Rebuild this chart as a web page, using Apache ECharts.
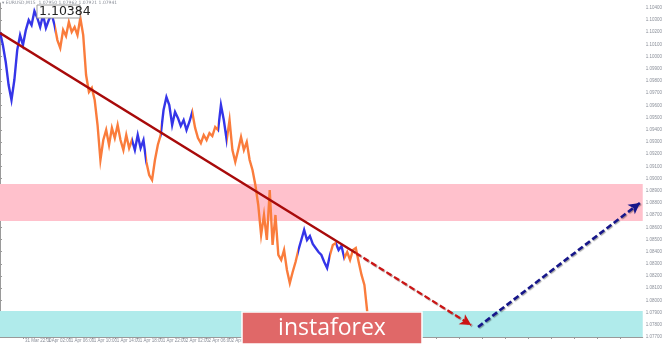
<!DOCTYPE html>
<html><head><meta charset="utf-8">
<script src="https://cdn.jsdelivr.net/npm/echarts@6/dist/echarts.min.js"></script>
<style>html,body{margin:0;padding:0;background:#fff}#c{width:665px;height:346px}</style>
</head><body><div id="c"></div>
<script>
// hours since 31 Mar 18:00, one point every half hour
const stepHours = 0.5;
const prices = [
1.10202,1.10095,1.09956,1.09767,1.09644,1.09808,1.10054,1.10177,1.10095,1.10218,
1.10300,1.10259,1.10374,1.10317,1.10243,1.10342,1.10235,1.10300,1.10350,1.10259,
1.10136,1.10071,1.10218,1.10169,1.10284,1.10202,1.10243,1.10177,1.10317,1.10177,
1.09849,1.09710,1.09743,1.09644,1.09439,1.09152,1.09316,1.09398,1.09275,1.09415,
1.09332,1.09439,1.09316,1.09234,1.09357,1.09250,1.09316,1.09234,1.09357,1.09250,
1.09316,1.09136,1.09029,1.08988,1.09152,1.09275,1.09357,1.09562,1.09669,1.09603,
1.09439,1.09546,1.09497,1.09431,1.09480,1.09398,1.09464,1.09546,1.09415,1.09332,
1.09291,1.09357,1.09316,1.09373,1.09349,1.09423,1.09398,1.09603,1.09480,1.09316,
1.09480,1.09234,1.09136,1.09234,1.09341,1.09234,1.09300,1.09152,1.09070,1.08947,
1.08783,1.08537,1.08701,1.08496,1.08906,1.08455,1.08701,1.08373,1.08332,1.08414,
1.08250,1.08143,1.08233,1.08315,1.08414,1.08496,1.08578,1.08496,1.08529,1.08463,
1.08430,1.08397,1.08373,1.08315,1.08266,1.08373,1.08455,1.08471,1.08414,1.08446,
1.08348,1.08397,1.08332,1.08414,1.08430,1.08315,1.08209,1.08127,1.07905
];
// wave colouring: boundaries (hours) and alternating colours
const waveBreaks = [9.5, 23, 25.5, 28, 33.5, 38, 39.5, 52, 57.5, 58.5, 60];
const waveColors = ['#3535e8', '#fa7c3c'];
// zones (price ranges)
const pinkZone = [1.08652, 1.08955];
const cyanZone = [1.0770, 1.07913];
// trend line (hours, price)
const trendSolid = [[0, 1.10194], [62, 1.08389]];
const trendDashed = [[62, 1.08389], [82.1, 1.07798]];
const forecast = [[83.3, 1.07782], [111.5, 1.08800]];
const peakLabel = '1.10384';
const lastPrice = 1.07941;
const yTicks = {min: 1.0770, max: 1.1044, interval: 0.001};
const xTicks = {min: 0, max: 112, interval: 4, lastLabel: 64};
const months = ['31 Mar', '1 Apr', '2 Apr', '3 Apr', '4 Apr', '5 Apr'];

const data = prices.map((p, i) => [i * stepHours, p]);
const pieces = [];
let prev = null;
waveBreaks.forEach((b, k) => {
  const pc = {lt: b, color: waveColors[k % 2]};
  if (prev !== null) pc.gte = prev;
  pieces.push(pc); prev = b;
});
pieces.push({gte: prev, color: waveColors[waveBreaks.length % 2]});

function timeLabel(h) {
  if (h > xTicks.lastLabel) return '';
  if (h === 0) return '31 Mar 2020';
  const total = 18 + h;
  const day = Math.floor(total / 24);
  const hh = total % 24;
  return months[day] + ' ' + String(hh).padStart(2, '0') + ':00';
}

const chart = echarts.init(document.getElementById('c'));
chart.setOption({
  animation: false,
  backgroundColor: '#ffffff',
  grid: {left: 0, right: 20, top: 3, bottom: 9},
  xAxis: {
    type: 'value', min: xTicks.min, max: xTicks.max, interval: xTicks.interval,
    axisLine: {show: true, lineStyle: {color: '#9a9a9a', width: 1}},
    axisTick: {show: true, length: 2, lineStyle: {color: '#9a9a9a'}},
    axisLabel: {fontSize: 4.5, color: '#8a8f99', margin: 1, align: 'left', padding: [0, 0, 0, 2],
      formatter: v => timeLabel(v), showMaxLabel: false},
    splitLine: {show: false}
  },
  yAxis: {
    type: 'value', position: 'right', min: yTicks.min, max: yTicks.max, interval: yTicks.interval,
    axisLine: {show: true, lineStyle: {color: '#9a9a9a', width: 1}},
    axisTick: {show: true, length: 2, lineStyle: {color: '#9a9a9a'}},
    axisLabel: {fontSize: 4.5, color: '#8a8f99', margin: 3, formatter: v => v.toFixed(5),
      showMaxLabel: false, showMinLabel: true},
    splitLine: {show: false}
  },
  visualMap: {type: 'piecewise', show: false, dimension: 0, seriesIndex: 1, pieces: pieces},
  series: [
    {
      type: 'line', data: [], z: 1, silent: true,
      markArea: {
        silent: true,
        data: [
          [{yAxis: pinkZone[1], xAxis: xTicks.min, itemStyle: {color: '#ffc1cc'}}, {yAxis: pinkZone[0], xAxis: xTicks.max}],
          [{yAxis: cyanZone[1], xAxis: xTicks.min, itemStyle: {color: '#b0ebeb'}}, {yAxis: cyanZone[0], xAxis: xTicks.max}]
        ]
      }
    },
    {
      type: 'line', data: data, z: 3, showSymbol: false, symbol: 'none',
      lineStyle: {width: 2.4, join: 'miter'}
    },
    {
      type: 'line', data: [], z: 5, silent: true,
      markLine: {
        silent: true, animation: false,
        data: [
          [{coord: trendSolid[0], symbol: 'none', lineStyle: {color: '#a80a0a', width: 2.4, type: 'solid'}},
           {coord: trendSolid[1], symbol: 'none'}],
          [{coord: trendDashed[0], symbol: 'none', lineStyle: {color: '#cc1414', width: 2.2, type: [6, 3],
             shadowColor: 'rgba(90,0,0,0.5)', shadowBlur: 1, shadowOffsetX: 1, shadowOffsetY: 1}},
           {coord: trendDashed[1], symbol: 'arrow', symbolSize: [9, 11]}],
          [{coord: forecast[0], symbol: 'none', lineStyle: {color: '#16168a', width: 2.6, type: [6, 3],
             shadowColor: 'rgba(0,0,0,0.35)', shadowBlur: 1, shadowOffsetX: 1, shadowOffsetY: 1}},
           {coord: forecast[1], symbol: 'arrow', symbolSize: [9, 11]}],
          [{yAxis: lastPrice, symbol: 'none', lineStyle: {opacity: 0},
            label: {show: true, position: 'end', formatter: lastPrice.toFixed(5), backgroundColor: '#5d6470',
              color: '#ffffff', fontSize: 4.5, padding: [1, 2], distance: 1}},
           {xAxis: xTicks.max, yAxis: lastPrice, symbol: 'none'}]
        ],
        label: {show: false}
      }
    }
  ],
  graphic: [
    {type: 'text', x: 2, y: 0, z: 10,
     style: {text: '\u25be EURUSD,M15  1.07950 1.07962 1.07921 1.07941', fontSize: 4.5, fill: '#8a8f99',
       fontFamily: 'DejaVu Sans'}},
    {type: 'rect', x: 37, y: 5, z: 10,
     shape: {width: 43, height: 13},
     style: {fill: '#ffffff', stroke: '#9a9a9a', lineWidth: 1}},
    {type: 'text', x: 39, y: 5, z: 11,
     style: {text: peakLabel, fontSize: 12.5, fill: '#222222', fontFamily: 'DejaVu Sans'}},
    {type: 'rect', x: 242, y: 312, z: 20,
     shape: {width: 180, height: 32},
     style: {fill: '#e06868', stroke: '#ffffff', lineWidth: 1.5}},
    {type: 'text', x: 332, y: 328, z: 21,
     style: {text: 'instaforex', fontSize: 23, fill: '#ffffff', fontFamily: 'Open Sans',
       textAlign: 'center', textVerticalAlign: 'middle', align: 'center', verticalAlign: 'middle'}}
  ]
});
</script></body></html>
